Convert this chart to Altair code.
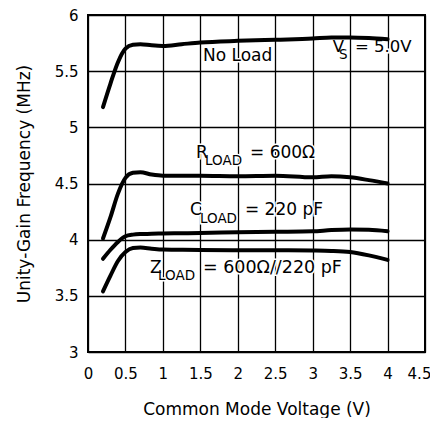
import altair as alt
import pandas as pd

# Common mode voltage (V) sample points
x_vals = [0.2, 0.3, 0.4, 0.5, 0.6, 0.7, 0.85, 1.0, 1.25, 1.5, 2.0, 2.5, 3.0, 3.25, 3.5, 3.75, 4.0]

# Unity-gain frequency (MHz) per load condition
no_load = [5.18, 5.39, 5.58, 5.70, 5.735, 5.74, 5.73, 5.725, 5.74, 5.755, 5.77, 5.78, 5.79, 5.80, 5.80, 5.795, 5.785]
r_load = [4.01, 4.20, 4.41, 4.55, 4.595, 4.60, 4.58, 4.57, 4.57, 4.57, 4.565, 4.57, 4.555, 4.565, 4.555, 4.53, 4.50]
c_load = [3.83, 3.91, 3.98, 4.03, 4.045, 4.05, 4.052, 4.055, 4.057, 4.06, 4.065, 4.07, 4.075, 4.085, 4.09, 4.088, 4.075]
z_load = [3.54, 3.68, 3.81, 3.89, 3.925, 3.93, 3.92, 3.912, 3.91, 3.908, 3.905, 3.905, 3.903, 3.90, 3.89, 3.86, 3.82]

series_names = ["No Load", "R_LOAD", "C_LOAD", "Z_LOAD"]
series_values = [no_load, r_load, c_load, z_load]

x_ticks = [0, 0.5, 1, 1.5, 2, 2.5, 3, 3.5, 4, 4.5]
y_ticks = [3, 3.5, 4, 4.5, 5, 5.5, 6]

# Annotation pieces (main text and subscripts)
ann_text = ["No Load", "V", "S", "= 5.0V",
            "R", "LOAD", "= 600\u03a9",
            "C", "LOAD", "= 220 pF",
            "Z", "LOAD", "= 600\u03a9//220 pF"]
ann_x = [1.535, 3.267, 3.351, 3.565,
         1.442, 1.562, 2.163,
         1.362, 1.495, 2.096,
         0.828, 0.935, 1.535]
ann_y = [5.59, 5.667, 5.605, 5.667,
         4.727, 4.665, 4.727,
         4.22, 4.148, 4.22,
         3.703, 3.641, 3.703]
ann_size = [17, 16.5, 13.5, 16.5,
            17, 13.5, 17,
            17, 13.5, 17,
            17, 13.5, 17.5]

rows = []
for name, ys in zip(series_names, series_values):
    for x, y in zip(x_vals, ys):
        rows.append({"series": name, "x": x, "y": y})
df = pd.DataFrame(rows)

ann = pd.DataFrame({"text": ann_text, "x": ann_x, "y": ann_y, "size": ann_size})

FONT = "DejaVu Sans"
xscale = alt.Scale(domain=[0, 4.5], nice=False, zero=False)
yscale = alt.Scale(domain=[3, 6], nice=False, zero=False)

x_axis = alt.Axis(values=x_ticks, format=".1~f", title="Common Mode Voltage (V)",
                  labelPadding=14, titlePadding=20, labelOverlap=False,
                  labelFlush=False, tickCount=10,
                  labelOffset={"condition": {"test": "datum.value >= 4.5", "value": -6},
                               "value": 0})
y_axis = alt.Axis(values=y_ticks, format=".1~f", title="Unity-Gain Frequency (MHz)",
                  labelPadding=10, titlePadding=21, labelOverlap=False,
                  labelFlush=False)

X = alt.X("x:Q", scale=xscale, axis=x_axis)
Y = alt.Y("y:Q", scale=yscale, axis=y_axis)

halo = alt.Chart(ann).mark_text(
    align="left", baseline="alphabetic", font=FONT, color="white",
    stroke="white", strokeWidth=3
).encode(
    x=X, y=Y,
    text="text:N",
    size=alt.Size("size:Q", scale=None, legend=None),
)

lines = alt.Chart(df).mark_line(
    color="black", strokeWidth=4, interpolate="monotone", strokeCap="round"
).encode(
    x=X, y=Y,
    detail="series:N",
)

labels = alt.Chart(ann).mark_text(
    align="left", baseline="alphabetic", font=FONT, color="black"
).encode(
    x=X, y=Y,
    text="text:N",
    size=alt.Size("size:Q", scale=None, legend=None),
)

chart = alt.layer(halo, lines, labels).properties(
    width=337, height=337,
    autosize=alt.AutoSizeParams(type="none"),
    padding={"left": 80, "top": 7, "right": 5, "bottom": 66},
    background="white",
).configure_view(
    stroke="black", strokeWidth=2
).configure_axis(
    domain=False, ticks=False, grid=True, gridColor="black", gridWidth=1.3,
    gridOpacity=1, labelFont=FONT, labelFontSize=15, labelColor="black",
    titleFont=FONT, titleFontSize=17, titleFontWeight="normal", titleColor="black",
)

chart.save("out.html", embed_options={"renderer": "svg", "actions": False})
